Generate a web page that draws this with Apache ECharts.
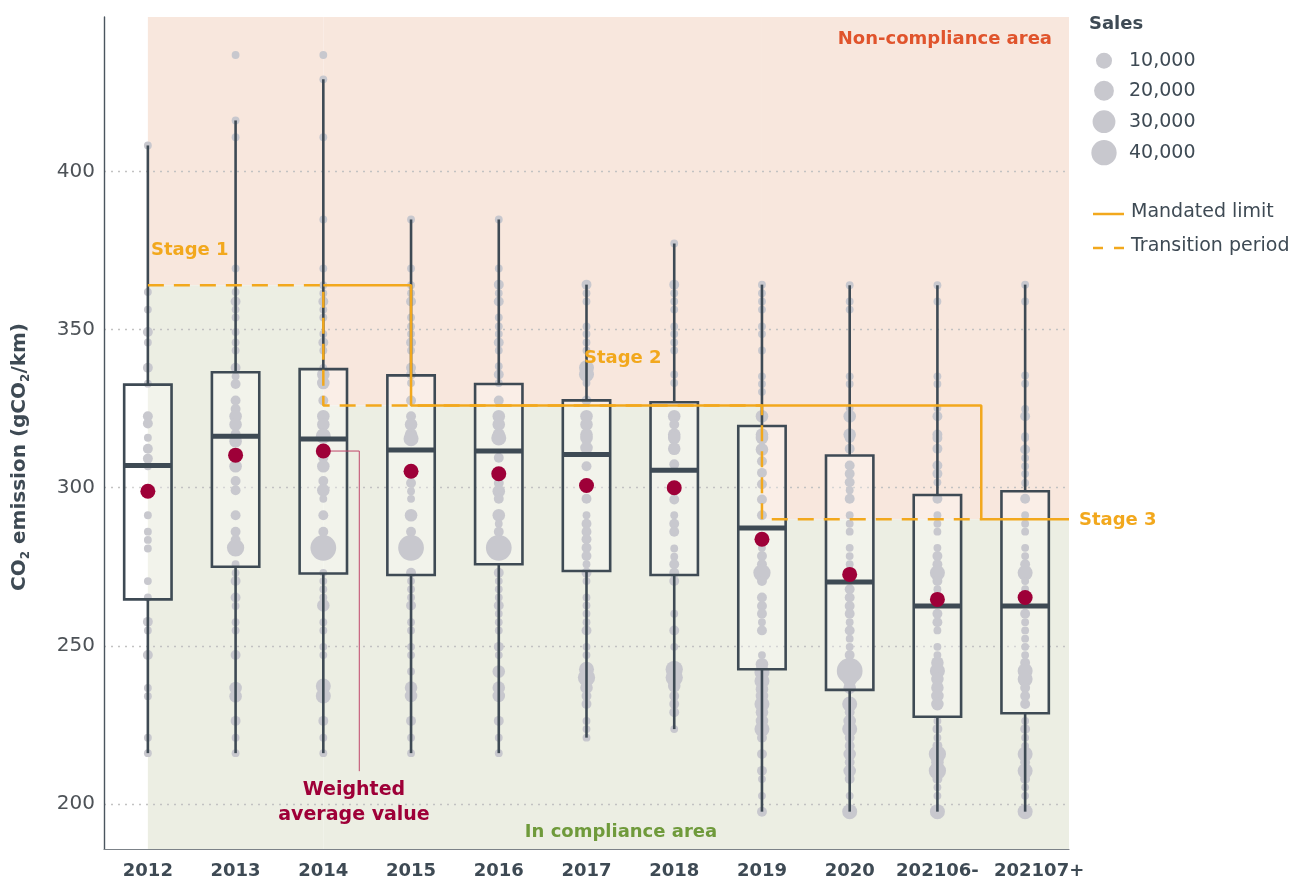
<!DOCTYPE html>
<html><head><meta charset="utf-8">
<script src="https://cdn.jsdelivr.net/npm/echarts@6/dist/echarts.min.js"></script>
<style>html,body{margin:0;padding:0;background:#fff}#c{width:1313px;height:880px}</style>
</head><body><div id="c"></div>
<script>
const categories = ['2012','2013','2014','2015','2016','2017','2018','2019','2020','202106-','202107+'];
const yTicks = [200, 250, 300, 350, 400];
const boxMin = [216.1,216.1,216.1,216.1,216.1,221,223.7,197.6,197.6,197.6,197.6];
const boxQ1 = [264.7,275,272.9,272.4,275.8,273.7,272.4,242.6,236.1,227.6,228.7];
const boxMedian = [307,316.3,315.4,311.9,311.6,310.5,305.5,287.3,270.2,262.6,262.6];
const boxQ3 = [332.6,336.5,337.5,335.5,332.8,327.6,327,319.5,310.2,297.7,298.9];
const boxMax = [408.2,416.1,429.1,384.8,384.8,364.2,377.2,364.2,364,364,364.2];
const weightedAvg = [298.9,310.3,311.6,305.2,304.4,300.7,300,283.7,272.6,264.7,265.3];
const stageLimits = [364, 326, 290];
const stageNames = ['Stage 1','Stage 2','Stage 3'];
const transitionStart = [0, 2, 7];
const mandatedStart = [2, 3, 9.5];
const legendSales = [10000, 20000, 30000, 40000];

// [CO2 g/km, sales]
const dots2012 = [[408.2,150],[361.9,150],[356.3,150],[349.2,1200],[345.9,150],[337.9,1200],[332.9,150],[322.6,1200],[320.3,1200],[315.8,150],[312.3,1200],[309.2,1200],[306.8,150],[291.3,150],[286.1,150],[283.5,150],[280.8,150],[270.5,150],[265.3,150],[257.6,1200],[254.9,150],[247.1,1200],[236.7,150],[234.1,150],[221,150],[216.1,150]];
const dots2013 = [[436.8,150],[416.1,150],[410.8,150],[369.3,150],[361.9,150],[358.9,1200],[356.3,150],[353.8,150],[349.2,150],[345.9,150],[343.4,150],[337.9,1200],[335.2,150],[332.8,1200],[327.6,1200],[324.9,1200],[322.6,4000],[320,4000],[317,1200],[314.7,4000],[306.8,4000],[302.1,1200],[299.2,1200],[291.3,1200],[286.1,1200],[283.5,1200],[281,13000],[275.8,150],[273.1,150],[270.5,1200],[265.3,1200],[262.6,150],[257.5,150],[254.9,150],[247.1,1200],[236.7,4000],[234.1,4000],[226.3,1200],[221,150],[216.1,150]];
const dots2014 = [[436.8,150],[429.1,150],[410.8,150],[384.8,150],[369.3,150],[364,150],[361.5,150],[358.9,1200],[356.3,150],[353.8,150],[348.6,150],[345.9,1200],[343.4,150],[337.9,150],[335.8,4000],[333.1,4000],[327.6,1200],[322.6,4000],[320,4000],[316.8,4000],[316.3,8000],[309.5,1200],[306.8,4000],[302.1,1200],[299.2,4000],[296.5,150],[291.3,1200],[286.1,1200],[281,42000],[273.1,150],[270.5,150],[267.9,150],[265.3,150],[262.8,4000],[257.5,150],[254.9,150],[249.7,150],[247.1,150],[237.3,8000],[234.2,8000],[226.3,1200],[221,150],[216.1,150]];
const dots2015 = [[384.8,150],[369.3,150],[364,150],[361.5,150],[358.9,1200],[353.8,150],[351,150],[348.6,150],[345.9,1200],[343.4,150],[337.9,1200],[335.8,1200],[333.1,150],[327.6,1200],[322.6,1200],[320,4000],[316.8,4000],[315.5,8000],[301.5,1200],[298.9,150],[296.5,150],[291.3,4000],[286.1,1200],[281,42000],[273.1,1200],[270.5,150],[267.9,150],[265.3,150],[262.8,1200],[257.5,150],[254.9,150],[249.7,150],[247.1,150],[241.9,150],[236.8,4000],[234.2,4000],[226.3,1200],[221,150],[216.1,150]];
const dots2016 = [[384.8,150],[369.3,150],[364.2,1200],[361.5,150],[358.9,1200],[353.8,150],[351,150],[348.6,150],[345.9,1200],[343.4,150],[338.4,150],[335.8,1200],[333.1,150],[327.6,1200],[322.6,4000],[320,4000],[316.8,4000],[315.7,8000],[309.5,1200],[301.5,1200],[298.9,4000],[296.5,1200],[291.3,4000],[288.6,150],[286.1,1200],[281,42000],[273.1,1200],[270.5,150],[267.9,150],[265.3,150],[262.8,1200],[260.2,150],[257.5,150],[254.9,150],[249.7,1200],[247.1,150],[241.9,4000],[236.8,4000],[234.2,4000],[226.3,1200],[221,150],[216.1,150]];
const dots2017 = [[364.2,1200],[361.5,150],[358.9,150],[351,150],[348.6,150],[345.9,150],[343.4,150],[337.9,8000],[335.8,8000],[333.1,150],[327.6,1200],[322.6,4000],[320,4000],[316.8,4000],[315.7,4000],[312.6,4000],[306.8,1200],[296.5,1200],[291.3,150],[288.6,1200],[286.1,1200],[283.7,1200],[281,1200],[278.4,1200],[275.8,150],[273.1,1200],[270.5,150],[265.3,150],[262.8,150],[260.2,150],[257.5,150],[254.9,1200],[249.7,150],[247.1,150],[242.6,8000],[240,13000],[236.8,4000],[234.2,1200],[231.6,1200],[226.3,150],[223.7,150],[221,150]];
const dots2018 = [[377.2,150],[364.2,1200],[361.5,150],[358.9,150],[356.3,150],[351,150],[348.6,150],[345.9,150],[343.4,150],[335.8,150],[333.1,150],[322.6,4000],[320,1200],[316.8,4000],[315.7,4000],[312.3,4000],[307.4,1200],[296.3,1200],[291.3,150],[288.6,1200],[286.1,1200],[280.8,150],[278.2,150],[275.8,1200],[273.1,1200],[270.5,1200],[260.2,150],[254.9,1200],[249.7,150],[242.6,13000],[240,13000],[237.3,4000],[234.2,1200],[231.6,1200],[229,1200],[223.7,150]];
const dots2019 = [[364.2,150],[361.5,150],[358.9,150],[356.3,150],[351,150],[348.6,150],[343.4,150],[335.2,150],[332.8,150],[330.3,150],[322.6,4000],[316.8,4000],[315.7,4000],[312.1,4000],[308.4,1200],[304.7,1200],[301.1,1200],[296.3,1200],[291.3,1200],[281,150],[278.4,1200],[275.8,1200],[273.1,13000],[270.5,1200],[265.3,1200],[262.6,1200],[260.2,1200],[257.5,150],[254.9,1200],[247.1,150],[244.2,4000],[241.6,8000],[238.9,8000],[236.3,4000],[234.2,4000],[231.6,8000],[229,4000],[226.3,4000],[223.7,8000],[221,1200],[215.8,1200],[210.5,1200],[207.9,150],[202.6,150],[197.6,1200]];
const dots2020 = [[364,150],[358.9,150],[356.3,150],[335.2,150],[332.8,150],[325.2,150],[322.6,4000],[316.8,4000],[315.7,1200],[312.3,1200],[307,1200],[304.4,1200],[301.7,1200],[299.2,150],[296.5,1200],[291.3,150],[288.6,150],[286.1,150],[281,150],[278.4,150],[275.8,150],[273.1,1200],[267.9,1200],[265.3,1200],[262.6,1200],[260.2,1200],[257.5,150],[254.9,1200],[252.3,150],[249.7,150],[247.1,1200],[244.7,1200],[242.1,42000],[239.5,8000],[236.8,4000],[231.6,8000],[229,1200],[226.3,4000],[223.7,8000],[221,1200],[218.4,1200],[215.8,4000],[213.2,1200],[210.5,4000],[207.9,1200],[202.6,150],[197.6,8000]];
const dots202106 = [[364,150],[358.9,150],[335.2,150],[332.8,150],[325.2,150],[322.6,1200],[316.8,1200],[315.7,1200],[312.3,1200],[307,1200],[304.4,1200],[301.7,150],[296.5,1200],[291.3,150],[288.6,150],[286.1,150],[281,150],[278.4,1200],[275.8,1200],[273.1,8000],[270.5,1200],[267.9,150],[260.2,1200],[257.5,1200],[254.9,150],[249.7,150],[247.1,150],[244.7,4000],[242.1,8000],[239.5,4000],[236.8,4000],[234.2,4000],[231.6,4000],[226.3,150],[223.7,1200],[221,150],[218.4,1200],[215.8,13000],[213.2,4000],[210.5,13000],[207.9,1200],[205.3,150],[202.6,150],[197.6,8000]];
const dots202107 = [[364.2,150],[358.9,150],[335.5,150],[332.9,150],[324.9,150],[322.6,1200],[316.3,150],[315.7,150],[312.1,1200],[309.4,150],[306.8,150],[304.4,150],[301.5,150],[296.5,1200],[291.3,150],[288.6,150],[286.1,150],[281,150],[278.4,150],[275.8,1200],[273.1,8000],[270.5,150],[267.9,150],[260.2,1200],[257.5,150],[254.9,150],[252.3,150],[249.7,150],[247.1,150],[244.7,1200],[242.1,8000],[239.5,8000],[236.8,1200],[234.2,1200],[231.6,1200],[226.3,150],[223.7,1200],[221,150],[218.4,150],[215.8,8000],[213.2,1200],[210.5,8000],[207.9,1200],[205.3,150],[202.6,150],[197.6,8000]];
const dotsByCategory = [dots2012,dots2013,dots2014,dots2015,dots2016,dots2017,dots2018,dots2019,dots2020,dots202106,dots202107];

const Y_MIN = 185.8, Y_MAX = 448.8, X_END = 10.5;
const FONT = '"DejaVu Sans", sans-serif';
const DARK = '#3e4a54', ORANGE = '#f2a81d', RED = '#9e0038', GREY = '#c8c8ce';

function dotSize(s){ return 6.7 + 0.093*Math.sqrt(s); }

const dotData = [];
dotsByCategory.forEach((arr,i)=>arr.forEach(d=>dotData.push([i, d[0], d[1]])));
const boxData = categories.map((c,i)=>[i, boxMin[i], boxQ1[i], boxMedian[i], boxQ3[i], boxMax[i]]);
const zoneData = stageLimits.map((l,k)=>[transitionStart[k], k<stageLimits.length-1 ? transitionStart[k+1] : X_END, l]);

function stepPath(starts, end, limits){
  const pts = [];
  limits.forEach((l,k)=>{
    const x0 = starts[k], x1 = k<limits.length-1 ? starts[k+1] : end;
    pts.push([x0,l]); pts.push([x1,l]);
  });
  return pts;
}
const mandatedPath = stepPath(mandatedStart, X_END, stageLimits);
const transitionPath = stepPath(transitionStart, mandatedStart[mandatedStart.length-1], stageLimits);

const chart = echarts.init(document.getElementById('c'));

function renderZone(params, api){
  const a = api.coord([api.value(0), Y_MAX]);
  const b = api.coord([api.value(1), Y_MIN]);
  const l = api.coord([api.value(0), api.value(2)])[1];
  return {type:'group', children:[
    {type:'rect', shape:{x:a[0], y:a[1], width:b[0]-a[0], height:l-a[1]}, style:{fill:'#f8e7dd'}},
    {type:'rect', shape:{x:a[0], y:l, width:b[0]-a[0], height:b[1]-l}, style:{fill:'#eceee3'}}
  ]};
}
function boxGeom(api){
  const i = api.value(0);
  const p = [1,2,3,4,5].map(k=>api.coord([i, api.value(k)])[1]);
  const x = api.coord([i, api.value(3)])[0];
  const w = api.size([1,0])[0]*0.54;
  return {x, w, pMin:p[0], pQ1:p[1], pMed:p[2], pQ3:p[3], pMax:p[4]};
}
function renderBoxFill(params, api){
  const g = boxGeom(api);
  return {type:'rect', shape:{x:g.x-g.w/2, y:g.pQ3, width:g.w, height:g.pQ1-g.pQ3}, style:{fill:'rgba(255,255,255,0.3)'}};
}
function renderBoxStroke(params, api){
  const g = boxGeom(api);
  const st = {stroke:DARK, lineWidth:2.6};
  return {type:'group', children:[
    {type:'line', shape:{x1:g.x, y1:g.pMax, x2:g.x, y2:g.pQ3}, style:st},
    {type:'line', shape:{x1:g.x, y1:g.pQ1, x2:g.x, y2:g.pMin}, style:st},
    {type:'rect', shape:{x:g.x-g.w/2, y:g.pQ3, width:g.w, height:g.pQ1-g.pQ3}, style:{stroke:DARK, lineWidth:2.6, fill:'transparent'}},
    {type:'line', shape:{x1:g.x-g.w/2, y1:g.pMed, x2:g.x+g.w/2, y2:g.pMed}, style:{stroke:DARK, lineWidth:5}}
  ]};
}

const legendGraphics = [];
legendGraphics.push({type:'text', left:1089, top:15, style:{text:'Sales', fill:DARK, font:'bold 18px '+FONT}});
const legendY = [60.7, 90.7, 121.7, 152.7];
legendSales.forEach((s,k)=>{
  legendGraphics.push({type:'circle', shape:{cx:1104, cy:legendY[k], r:dotSize(s)/2}, style:{fill:GREY}});
  legendGraphics.push({type:'text', x:1129, y:legendY[k], style:{text:s.toLocaleString('en-US'), fill:DARK, font:'19px '+FONT, textVerticalAlign:'middle'}});
});
legendGraphics.push({type:'line', shape:{x1:1093, y1:214, x2:1124, y2:214}, style:{stroke:ORANGE, lineWidth:2.5}});
legendGraphics.push({type:'text', x:1131, y:212, style:{text:'Mandated limit', fill:DARK, font:'19px '+FONT, textVerticalAlign:'middle'}});
legendGraphics.push({type:'line', shape:{x1:1093, y1:248, x2:1103, y2:248}, style:{stroke:ORANGE, lineWidth:2.5}});
legendGraphics.push({type:'line', shape:{x1:1114, y1:248, x2:1124, y2:248}, style:{stroke:ORANGE, lineWidth:2.5}});
legendGraphics.push({type:'text', x:1131, y:246, style:{text:'Transition period', fill:DARK, font:'19px '+FONT, textVerticalAlign:'middle'}});

const labelGraphics = [
  {type:'text', x:1052, y:39, style:{text:'Non-compliance area', fill:'#e0542c', font:'bold 18px '+FONT, textAlign:'right', textVerticalAlign:'middle'}, z:10},
  {type:'text', x:621, y:832, style:{text:'In compliance area', fill:'#6f9a3b', font:'bold 18px '+FONT, textAlign:'center', textVerticalAlign:'middle'}, z:10},
  {type:'text', x:151, y:250, style:{text:stageNames[0], fill:ORANGE, font:'bold 18px '+FONT, textVerticalAlign:'middle'}, z:10},
  {type:'text', x:584, y:358, style:{text:stageNames[1], fill:ORANGE, font:'bold 18px '+FONT, textVerticalAlign:'middle'}, z:10},
  {type:'text', x:1079, y:520, style:{text:stageNames[2], fill:ORANGE, font:'bold 18px '+FONT, textVerticalAlign:'middle'}, z:10},
  {type:'text', x:354, y:790, style:{text:'Weighted', fill:RED, font:'bold 19px '+FONT, textAlign:'center', textVerticalAlign:'middle'}, z:10},
  {type:'text', x:354, y:815, style:{text:'average value', fill:RED, font:'bold 19px '+FONT, textAlign:'center', textVerticalAlign:'middle'}, z:10}
];

const xLabelStyle = {color:DARK, fontFamily:FONT, fontSize:18, fontWeight:'bold'};
const option = {
  animation:false,
  backgroundColor:'#ffffff',
  grid:{left:104, right:244, top:17, bottom:30, containLabel:false},
  xAxis:[
    {type:'category', data:categories, boundaryGap:true, z:1,
      axisLine:{show:true, onZero:false, lineStyle:{color:'#7c8288', width:1.2}},
      axisTick:{show:false},
      axisLabel:Object.assign({margin:13, interval:0,
        formatter:function(v, i){ return i === categories.length-1 ? '{r|'+v+'}' : v; },
        rich:{r:Object.assign({padding:[0,0,0,28]}, xLabelStyle)}}, xLabelStyle),
      splitLine:{show:false}},
    {type:'value', min:-0.5, max:X_END, show:false}
  ],
  yAxis:{type:'value', min:Y_MIN, max:Y_MAX, z:1,
    name:'CO{s|2} emission (gCO{s|2}/km)', nameLocation:'middle', nameGap:72, nameRotate:90,
    nameTextStyle:{color:DARK, fontFamily:FONT, fontSize:20, fontWeight:'bold', lineHeight:24, padding:[0,48,0,0],
      rich:{s:{fontSize:12, fontWeight:'bold', fontFamily:FONT, color:DARK, verticalAlign:'bottom', lineHeight:24}}},
    axisLine:{show:true, onZero:false, lineStyle:{color:'#4a555f', width:1.4}},
    axisTick:{show:false, customValues:yTicks},
    axisLabel:{customValues:yTicks, color:'#4d5257', fontFamily:FONT, fontSize:20, margin:9},
    splitLine:{show:true, lineStyle:{color:'#c2c2c2', width:1.3, type:[2,5]}}
  },
  graphic:legendGraphics.concat(labelGraphics),
  series:[
    {type:'custom', name:'zones', xAxisIndex:1, z:0, silent:true, renderItem:renderZone, data:zoneData, encode:{x:[0,1], y:2}},
    {type:'custom', name:'boxFill', xAxisIndex:1, z:2, silent:true, renderItem:renderBoxFill, data:boxData, encode:{x:0, y:[1,2,3,4,5]}},
    {type:'scatter', name:'models', xAxisIndex:1, z:3, silent:true, data:dotData,
      symbolSize:function(v){return dotSize(v[2]);}, itemStyle:{color:GREY, opacity:1}},
    {type:'custom', name:'box', xAxisIndex:1, z:4, silent:true, renderItem:renderBoxStroke, data:boxData, encode:{x:0, y:[1,2,3,4,5]}},
    {type:'line', name:'Transition period', xAxisIndex:1, z:5, silent:true, data:transitionPath, symbol:'none', clip:false,
      lineStyle:{color:ORANGE, width:2.5, type:[16,10]}},
    {type:'line', name:'Mandated limit', xAxisIndex:1, z:6, silent:true, data:mandatedPath, symbol:'none', clip:false,
      lineStyle:{color:ORANGE, width:2.5}},
    {type:'line', name:'annot', xAxisIndex:1, z:6, silent:true, symbol:'none',
      data:[[2, weightedAvg[2]], [2.41, weightedAvg[2]], [2.41, 210.4]], lineStyle:{color:'#c0466a', width:1}},
    {type:'scatter', name:'Weighted average', xAxisIndex:1, z:7, silent:true, symbolSize:15,
      data:weightedAvg.map((v,i)=>[i,v]), itemStyle:{color:RED, opacity:1}}
  ]
};
chart.setOption(option);
</script>
</body></html>
